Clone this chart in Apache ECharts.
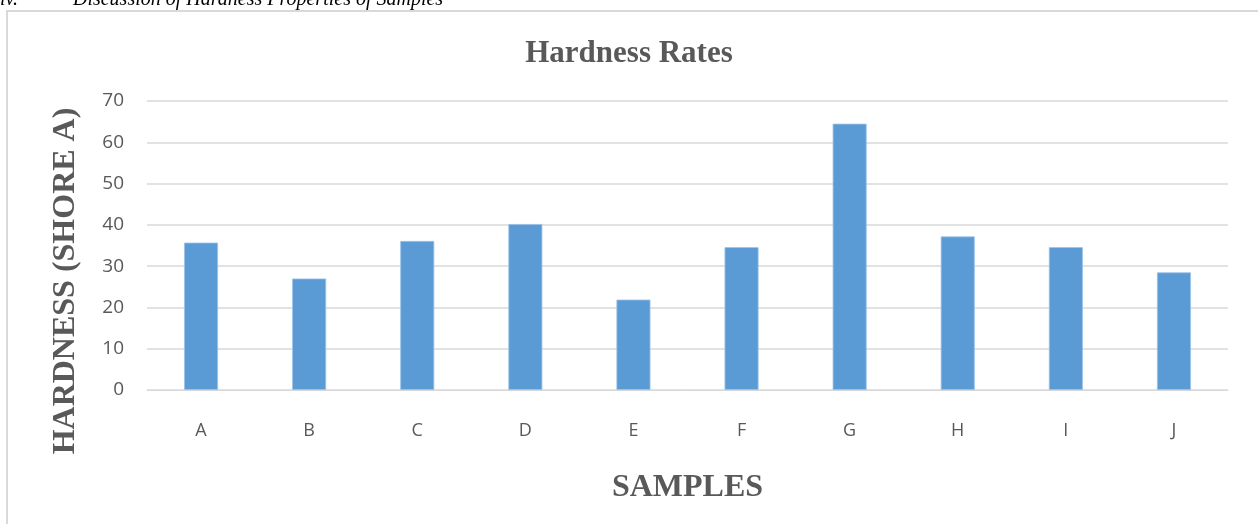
<!DOCTYPE html>
<html><head><meta charset="utf-8">
<script src="https://cdn.jsdelivr.net/npm/echarts@6/dist/echarts.min.js"></script>
<style>html,body{margin:0;padding:0;background:#fff}#c{width:1258px;height:524px}</style>
</head><body><div id="c"></div>
<script>
const categories = ['A','B','C','D','E','F','G','H','I','J'];
const hardness = [35.7, 27.0, 36.1, 40.2, 21.9, 34.6, 64.5, 37.2, 34.6, 28.5];
const chartTitle = 'Hardness Rates';
const xName = 'SAMPLES';
const yName = 'HARDNESS (SHORE A)';
const caption = 'iv.           Discussion of Hardness Properties of Samples';

const chart = echarts.init(document.getElementById('c'));
chart.setOption({
  animation: false,
  title: {
    text: chartTitle, left: 'center', top: 33,
    textStyle: {fontFamily: 'Liberation Serif', fontWeight: 'bold', fontSize: 31, color: '#595959'}
  },
  graphic: [
    {type: 'rect', shape: {x: 7, y: 11, width: 1260, height: 520}, style: {fill: 'none', stroke: '#d9d9d9', lineWidth: 2}, silent: true},
    {type: 'text', left: 0, top: -10, style: {text: caption, font: 'italic 20px "Liberation Serif"', fill: '#000'}},
    {type: 'text', x: 66, y: 281, rotation: Math.PI / 2,
      style: {text: yName, font: 'bold 32px "Liberation Serif"', fill: '#595959', align: 'center', verticalAlign: 'middle'}}
  ],
  grid: {left: 147, right: 30, top: 101, bottom: 134},
  xAxis: {
    type: 'category', data: categories,
    name: xName, nameLocation: 'middle', nameGap: 82,
    nameTextStyle: {fontFamily: 'Liberation Serif', fontWeight: 'bold', fontSize: 32, color: '#595959'},
    axisLine: {show: true, lineStyle: {color: '#d9d9d9', width: 1}},
    axisTick: {show: false},
    axisLabel: {margin: 32, fontFamily: 'Open Sans', fontSize: 18, color: '#595959'}
  },
  yAxis: {
    type: 'value', min: 0, max: 70, interval: 10,
    axisLine: {show: false}, axisTick: {show: false},
    axisLabel: {margin: 23, fontFamily: 'Open Sans', fontSize: 19, color: '#595959'},
    splitLine: {lineStyle: {color: '#d9d9d9', width: 1.5}}
  },
  series: [{
    type: 'bar', data: hardness, barWidth: 34,
    itemStyle: {color: '#5b9bd5', borderColor: '#9cc3e8', borderWidth: 0.8}
  }]
});
</script></body></html>
